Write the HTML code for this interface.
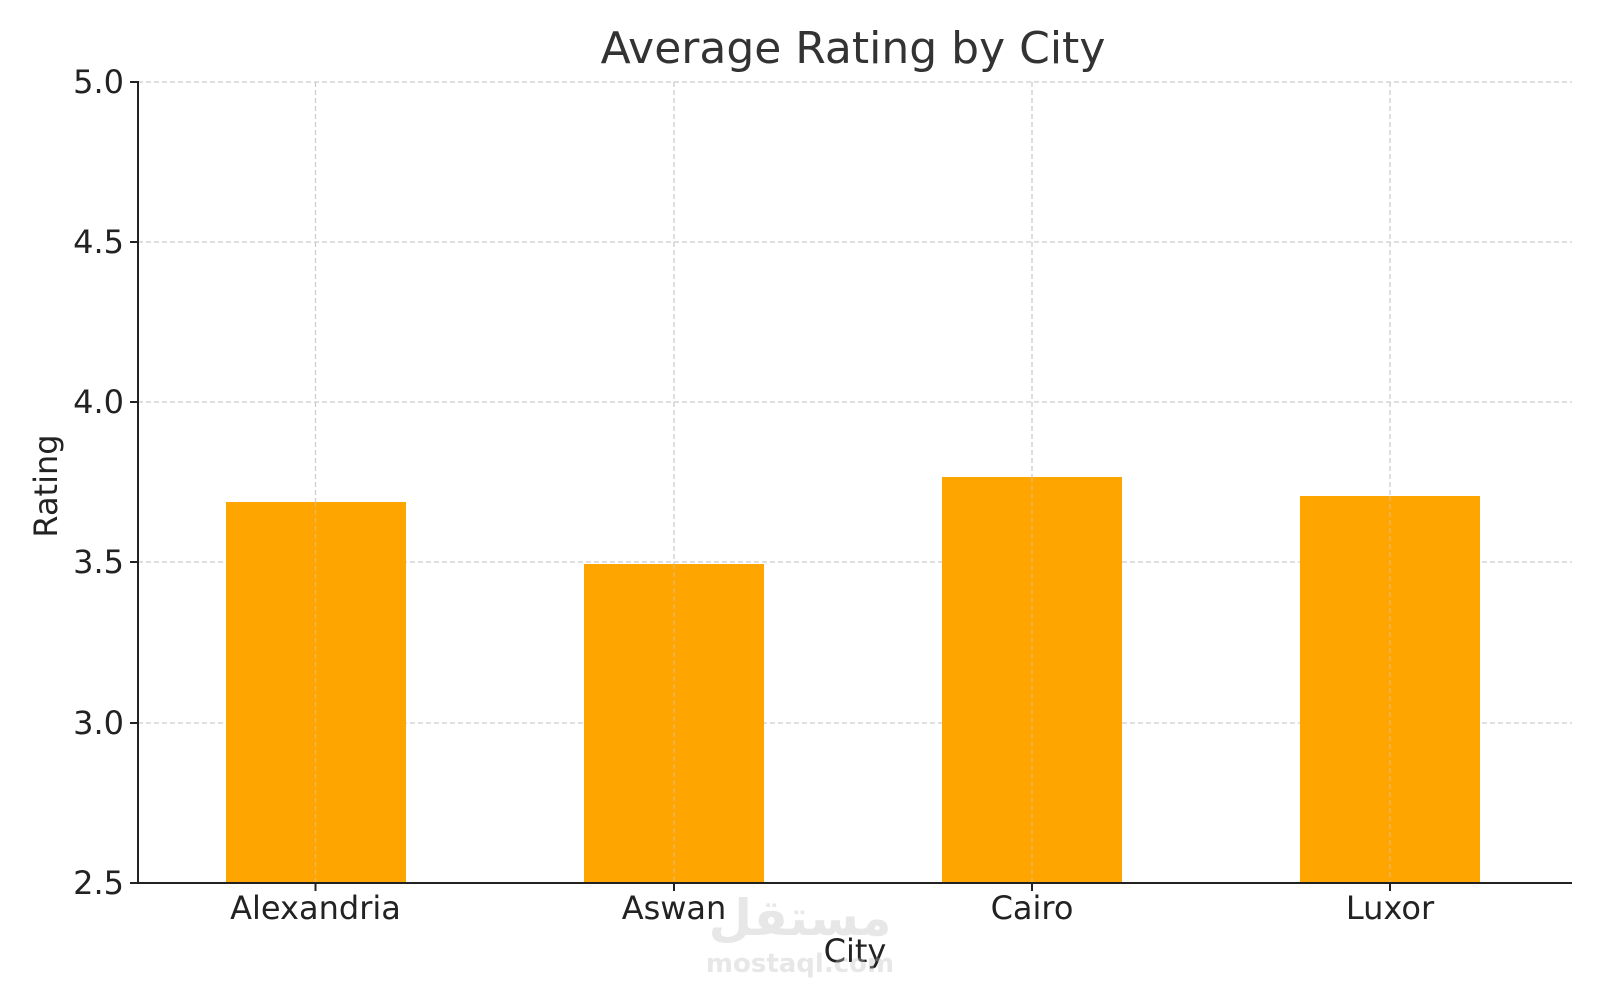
<!DOCTYPE html>
<html><head><style>body{margin:0;background:#fff}svg{display:block}</style></head><body>
<svg width="1600" height="1000" xmlns="http://www.w3.org/2000/svg" font-family="DejaVu Sans, Liberation Sans, sans-serif">
<rect width="1600" height="1000" fill="#fff"/>
<g stroke="#cccccc" stroke-width="1.3" stroke-dasharray="5,3">
<line x1="138" x2="1572" y1="82" y2="82"/>
<line x1="138" x2="1572" y1="242" y2="242"/>
<line x1="138" x2="1572" y1="402" y2="402"/>
<line x1="138" x2="1572" y1="562" y2="562"/>
<line x1="138" x2="1572" y1="723" y2="723"/>
<line x1="315.5" x2="315.5" y1="82" y2="883"/>
<line x1="674" x2="674" y1="82" y2="883"/>
<line x1="1032" x2="1032" y1="82" y2="883"/>
<line x1="1390" x2="1390" y1="82" y2="883"/>
</g>
<g fill="#ffa500">
<rect x="226" y="502" width="180" height="381"/>
<rect x="584" y="564" width="180" height="319"/>
<rect x="942" y="477" width="180" height="406"/>
<rect x="1300" y="496" width="180" height="387"/>
</g>
<g stroke="#cccccc" stroke-width="1.3" stroke-dasharray="5,3" opacity="0.5">
<line x1="315.5" x2="315.5" y1="502" y2="883"/>
<line x1="674" x2="674" y1="564" y2="883"/>
<line x1="1032" x2="1032" y1="477" y2="883"/>
<line x1="1390" x2="1390" y1="496" y2="883"/>
</g>
<g stroke="#222" stroke-width="2">
<line x1="138" x2="138" y1="81" y2="884"/>
<line x1="137" x2="1572" y1="883" y2="883"/>
<line x1="130" x2="138" y1="82" y2="82"/>
<line x1="130" x2="138" y1="242" y2="242"/>
<line x1="130" x2="138" y1="402" y2="402"/>
<line x1="130" x2="138" y1="562" y2="562"/>
<line x1="130" x2="138" y1="723" y2="723"/>
<line x1="130" x2="138" y1="883" y2="883"/>
<line x1="315.5" x2="315.5" y1="883" y2="891"/>
<line x1="674" x2="674" y1="883" y2="891"/>
<line x1="1032" x2="1032" y1="883" y2="891"/>
<line x1="1390" x2="1390" y1="883" y2="891"/>
</g>
<g font-size="32" fill="#222" text-anchor="end">
<text x="124" y="93">5.0</text>
<text x="124" y="253">4.5</text>
<text x="124" y="413">4.0</text>
<text x="124" y="573">3.5</text>
<text x="124" y="734">3.0</text>
<text x="124" y="894">2.5</text>
</g>
<g font-size="32" fill="#222" text-anchor="middle">
<text x="315.5" y="919">Alexandria</text>
<text x="674" y="919">Aswan</text>
<text x="1032" y="919">Cairo</text>
<text x="1390" y="919">Luxor</text>
<text x="855" y="962">City</text>
<text x="853" y="63" font-size="44" fill="#333">Average Rating by City</text>
<text transform="translate(57,486) rotate(-90)">Rating</text>
</g>
<g fill="#bbb" opacity="0.35" font-weight="bold" text-anchor="middle">
<text x="800" y="935" font-size="50">مستقل</text>
<text x="800" y="972" font-size="26">mostaql.com</text>
</g>
</svg>
</body></html>
